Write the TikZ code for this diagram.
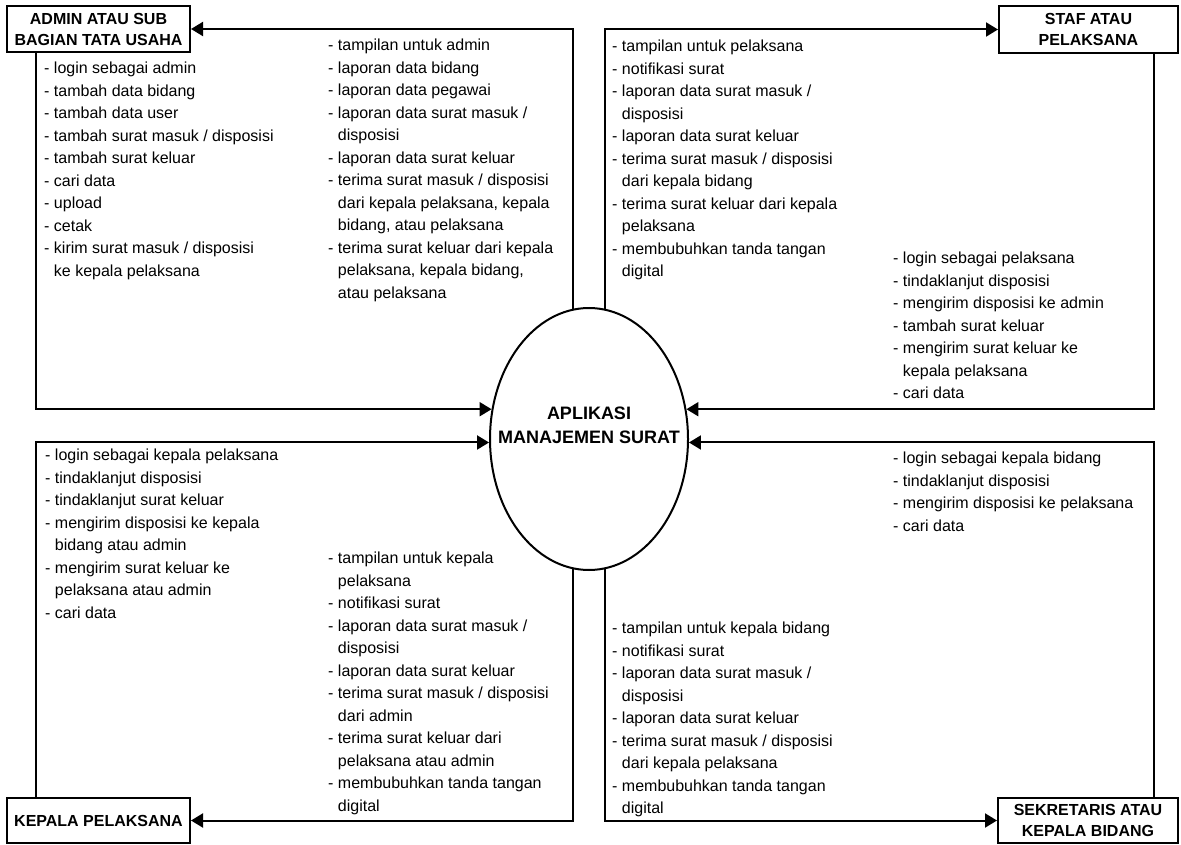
\documentclass[tikz,border=0pt]{standalone}
\usepackage{fontspec}
\setmainfont{Liberation Sans}
\usetikzlibrary{arrows.meta,shapes.geometric}
\newcommand{\lanj}{\hphantom{-}\ }

\begin{document}
\begin{tikzpicture}[x=1pt,y=-1pt,
    entitas/.style={draw,line width=2pt,align=center,inner sep=0pt,font=\fontsize{16}{21}\selectfont\bfseries},
    proses/.style={draw,ellipse,line width=2pt,minimum width=198pt,minimum height=262pt,inner sep=0pt},
    daftar/.style={anchor=north west,align=left,inner sep=0pt,font=\fontsize{16}{22.5}\selectfont},
    arus/.style={line width=2pt,-{Triangle[length=12pt,width=14pt]}}]
    \useasboundingbox (0,0) rectangle (1181,845);

    \node[entitas,minimum width=183pt,minimum height=46pt] (admin) at (98.5,29) {ADMIN ATAU SUB\\BAGIAN TATA USAHA};
    \node[entitas,minimum width=179pt,minimum height=47pt] (staf) at (1088.5,29.5) {STAF ATAU\\PELAKSANA};
    \node[entitas,minimum width=183pt,minimum height=45pt] (kapel) at (98.5,820.5) {KEPALA PELAKSANA};
    \node[entitas,minimum width=180pt,minimum height=45pt] (sekbid) at (1088,820.5) {SEKRETARIS ATAU\\KEPALA BIDANG};
    \node[proses,label={[yshift=14pt,align=center,font=\fontsize{18}{24}\selectfont\bfseries]center:APLIKASI\\MANAJEMEN SURAT}] (apl) at (589,439) {};

    \draw[arus] (apl.97) |- (admin.east);
    \draw[arus] (apl.83) |- (staf.west);
    \draw[arus] ([xshift=30pt]admin.south west) |- (apl.163);
    \draw[arus] ([xshift=30pt]kapel.north west) |- (apl.182);
    \draw[arus] ([xshift=-25pt]staf.south east) |- (apl.17);
    \draw[arus] ([xshift=-25pt]sekbid.north east) |- (apl.358);
    \draw[arus] (apl.263) |- (kapel.east);
    \draw[arus] (apl.277) |- (sekbid.west);

    \node[daftar] (admin-in) at (44,62) {- login sebagai admin\\- tambah data bidang\\- tambah data user\\- tambah surat masuk / disposisi\\- tambah surat keluar\\- cari data\\- upload\\- cetak\\- kirim surat masuk / disposisi\\\lanj ke kepala pelaksana};
    \node[daftar] (admin-out) at (328,39) {- tampilan untuk admin\\- laporan data bidang\\- laporan data pegawai\\- laporan data surat masuk /\\\lanj disposisi\\- laporan data surat keluar\\- terima surat masuk / disposisi\\\lanj dari kepala pelaksana, kepala\\\lanj bidang, atau pelaksana\\- terima surat keluar dari kepala\\\lanj pelaksana, kepala bidang,\\\lanj atau pelaksana};
    \node[daftar] (staf-out) at (612,40) {- tampilan untuk pelaksana\\- notifikasi surat\\- laporan data surat masuk /\\\lanj disposisi\\- laporan data surat keluar\\- terima surat masuk / disposisi\\\lanj dari kepala bidang\\- terima surat keluar dari kepala\\\lanj pelaksana\\- membubuhkan tanda tangan\\\lanj digital};
    \node[daftar] (staf-in) at (893,252) {- login sebagai pelaksana\\- tindaklanjut disposisi\\- mengirim disposisi ke admin\\- tambah surat keluar\\- mengirim surat keluar ke\\\lanj kepala pelaksana\\- cari data};
    \node[daftar] (sekbid-in) at (893,452) {- login sebagai kepala bidang\\- tindaklanjut disposisi\\- mengirim disposisi ke pelaksana\\- cari data};
    \node[daftar] (kapel-in) at (45,449) {- login sebagai kepala pelaksana\\- tindaklanjut disposisi\\- tindaklanjut surat keluar\\- mengirim disposisi ke kepala\\\lanj bidang atau admin\\- mengirim surat keluar ke\\\lanj pelaksana atau admin\\- cari data};
    \node[daftar] (kapel-out) at (328,552) {- tampilan untuk kepala\\\lanj pelaksana\\- notifikasi surat\\- laporan data surat masuk /\\\lanj disposisi\\- laporan data surat keluar\\- terima surat masuk / disposisi\\\lanj dari admin\\- terima surat keluar dari\\\lanj pelaksana atau admin\\- membubuhkan tanda tangan\\\lanj digital};
    \node[daftar] (sekbid-out) at (612,622) {- tampilan untuk kepala bidang\\- notifikasi surat\\- laporan data surat masuk /\\\lanj disposisi\\- laporan data surat keluar\\- terima surat masuk / disposisi\\\lanj dari kepala pelaksana\\- membubuhkan tanda tangan\\\lanj digital};
\end{tikzpicture}
\end{document}
